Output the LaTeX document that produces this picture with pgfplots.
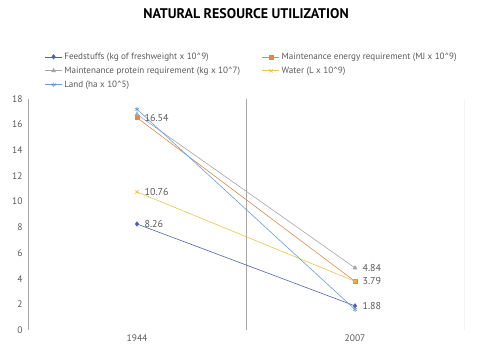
\documentclass[border=0pt]{standalone}
\usepackage{fontspec}
\setmainfont{PT Sans}
\usepackage{pgfplots}
\pgfplotsset{compat=1.18}
\definecolor{cFeed}{HTML}{4F62A8}
\definecolor{cEnergy}{HTML}{DC8A4E}
\definecolor{cProt}{HTML}{A5A5A5}
\definecolor{cWater}{HTML}{E6C552}
\definecolor{cLand}{HTML}{6F9BD2}
\definecolor{txt}{HTML}{595959}
\definecolor{axl}{HTML}{A6A6A6}
\begin{document}
\begin{tikzpicture}
\path[use as bounding box] (-28bp,-30bp) rectangle ++(485bp,360bp);
\begin{axis}[
  name=ax,
  at={(0,0)}, anchor=south west,
  scale only axis,
  width=436bp, height=231bp,
  xmin=-0.5, xmax=1.5,
  ymin=0, ymax=18,
  xtick={0,1}, xticklabels={1944,2007},
  ytick={0,2,...,18},
  major tick length=0pt,
  axis line style={draw=none},
  tick label style={font=\fontsize{9.5bp}{11bp}\selectfont, text=txt},
  /pgf/number format/assume math mode=true,
  yticklabel style={xshift=-2bp},
  xticklabel style={yshift=-1bp},
  title={\textbf{NATURAL RESOURCE UTILIZATION}},
  title style={at={(0.5,1.342)}, anchor=center, font=\fontsize{14bp}{16bp}\selectfont, text=black},
  legend columns=2,
  legend cell align=left,
  legend style={at={(0.038,1.035)}, anchor=south west, draw=none, fill=none,
    font=\fontsize{9.1bp}{10.5bp}\selectfont, text=txt,
    row sep=2bp, inner sep=0pt,
    /tikz/column 2/.style={column sep=20bp}},
  every axis plot/.append style={line width=0.6pt, mark size=2.2pt},
  nodes near coords,
  point meta=explicit symbolic,
  every node near coord/.append style={anchor=west, xshift=4bp, font=\fontsize{10bp}{11bp}\selectfont, text=txt},
]
\draw[axl, line width=0.8pt] (rel axis cs:0,1) -- (rel axis cs:0,0) -- (rel axis cs:1,0) -- (rel axis cs:1,1);
\draw[axl, line width=0.8pt] (axis cs:0.5,0) -- (axis cs:0.5,18);
\addplot[color=cFeed, mark=diamond*, mark options={fill=cFeed}] coordinates {(0,8.26)[8.26] (1,1.88)[1.88]};
\addlegendentry{Feedstuffs (kg of freshweight x 10\textasciicircum 9)}
\addplot[color=cEnergy, mark=square*, mark options={fill=cEnergy}, mark size=2pt] coordinates {(0,16.54)[16.54] (1,3.79)[3.79]};
\addlegendentry{Maintenance energy requirement (MJ x 10\textasciicircum 9)}
\addplot[color=cProt, mark=triangle*, mark options={fill=cProt}] coordinates {(0,16.8)[] (1,4.84)[4.84]};
\addlegendentry{Maintenance protein requirement (kg x 10\textasciicircum 7)}
\addplot[color=cWater, mark=x, mark size=2.4pt] coordinates {(0,10.76)[10.76] (1,3.79)[]};
\addlegendentry{Water (L x 10\textasciicircum 9)}
\addplot[color=cLand, mark=asterisk, mark size=2.4pt] coordinates {(0,17.2)[] (1,1.6)[]};
\addlegendentry{Land (ha x 10\textasciicircum 5)}
\end{axis}
\end{tikzpicture}
\end{document}
